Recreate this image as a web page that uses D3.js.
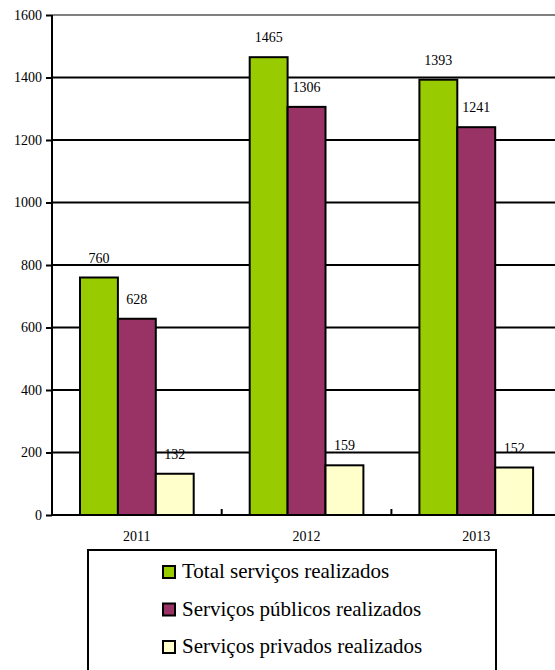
<!DOCTYPE html>
<html lang="pt">
<head>
<meta charset="utf-8">
<script src="https://cdn.jsdelivr.net/npm/d3@7"></script>
<style>
  body { margin: 0; background: #fff; }
  svg text { font-family: "Liberation Serif", "Times New Roman", serif; }
</style>
</head>
<body>
<script>
  // data
  let years = ["2011", "2012", "2013"];
  let series = ["Total serviços realizados", "Serviços públicos realizados", "Serviços privados realizados"];
  let total = [760, 1465, 1393];
  let publicos = [628, 1306, 1241];
  let privados = [132, 159, 152];
  let colors = ["#99cc00", "#993366", "#ffffcc"];
  let yTicks = [0, 200, 400, 600, 800, 1000, 1200, 1400, 1600];

  let w = 555, h = 670;
  let plotLeft = 52, plotTop = 15, plotBottom = 515;
  let band = 169.7;
  let serif = "Liberation Serif, Times New Roman, serif";

  let svg = d3.select("body").append("svg")
      .attr("width", w)
      .attr("height", h)
      .style("font-family", serif);

  let x = d3.scaleBand()
      .domain(years)
      .range([plotLeft, plotLeft + band * years.length])
      .padding(0);

  // bars cover ~113px of each ~170px category
  let xs = d3.scaleBand()
      .domain(series)
      .range([28, x.bandwidth() - 28])
      .padding(0);

  let y = d3.scaleLinear().domain([0, 1600]).range([plotBottom, plotTop]);

  // gridlines
  svg.append("g").selectAll("line")
      .data(yTicks.filter(d => d > 0))
      .join("line")
      .attr("x1", plotLeft).attr("x2", w)
      .attr("y1", d => y(d)).attr("y2", d => y(d))
      .attr("stroke", d => d === 1600 ? "#808080" : "#000")
      .attr("stroke-width", 2);

  // y axis
  let yAxis = svg.append("g")
      .attr("transform", "translate(" + plotLeft + ",0)")
      .call(d3.axisLeft(y).tickValues(yTicks).tickFormat(d3.format("d")).tickSize(6).tickPadding(4))
      .attr("font-family", serif)
      .attr("font-size", 14);
  yAxis.select(".domain").attr("stroke-width", 2).attr("d", "M0," + plotTop + "V" + plotBottom);
  yAxis.selectAll(".tick line").attr("stroke-width", 2);
  yAxis.selectAll("text").attr("fill", "#000");

  let rows = years.map((yr, i) => ({ year: yr, vals: [total[i], publicos[i], privados[i]] }));

  let groups = svg.append("g").selectAll("g")
      .data(rows)
      .join("g")
      .attr("transform", d => "translate(" + x(d.year) + ",0)");

  groups.selectAll("rect")
      .data(d => d.vals.map((v, j) => ({ key: series[j], v: v, j: j })))
      .join("rect")
      .attr("x", d => xs(d.key))
      .attr("y", d => y(d.v))
      .attr("width", xs.bandwidth())
      .attr("height", d => y(0) - y(d.v))
      .attr("fill", d => colors[d.j])
      .attr("stroke", "#000")
      .attr("stroke-width", 2);

  groups.selectAll("text.val")
      .data(d => d.vals.map((v, j) => ({ key: series[j], v: v, j: j })))
      .join("text")
      .attr("class", "val")
      .attr("x", d => xs(d.key) + xs.bandwidth() / 2)
      .attr("y", d => y(d.v) - 15)
      .attr("text-anchor", "middle")
      .attr("font-size", "14px")
      .text(d => d.v);

  // x axis
  svg.append("line")
      .attr("x1", plotLeft).attr("x2", w)
      .attr("y1", plotBottom).attr("y2", plotBottom)
      .attr("stroke", "#000").attr("stroke-width", 2);
  svg.append("g").selectAll("line")
      .data(years.slice(1))
      .join("line")
      .attr("x1", d => x(d)).attr("x2", d => x(d))
      .attr("y1", plotBottom - 6).attr("y2", plotBottom)
      .attr("stroke", "#000").attr("stroke-width", 2);
  svg.append("g").selectAll("text")
      .data(years)
      .join("text")
      .attr("x", d => x(d) + x.bandwidth() / 2)
      .attr("y", 541)
      .attr("text-anchor", "middle")
      .attr("font-size", "14px")
      .text(d => d);

  // legend
  let lg = svg.append("g");
  lg.append("rect")
      .attr("x", 88).attr("y", 550)
      .attr("width", 408).attr("height", 140)
      .attr("fill", "#fff").attr("stroke", "#000").attr("stroke-width", 2);
  let items = lg.selectAll("g")
      .data(series)
      .join("g")
      .attr("transform", (d, i) => "translate(163," + (566 + i * 37.5) + ")");
  items.append("rect")
      .attr("width", 12).attr("height", 12)
      .attr("fill", (d, i) => colors[i])
      .attr("stroke", "#000").attr("stroke-width", 2);
  items.append("text")
      .attr("x", 19).attr("y", 12)
      .attr("font-size", "21px")
      .text(d => d);
</script>
</body>
</html>
